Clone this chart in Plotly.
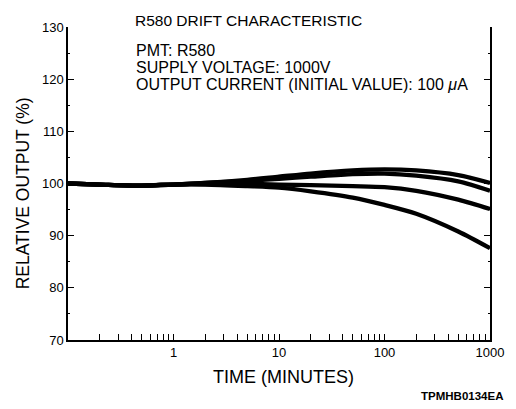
import plotly.graph_objects as go

# Time (minutes)
time_min = [0.1, 0.2, 0.5, 1, 2, 5, 10, 20, 50, 100, 200, 500, 1000]
# Relative output (%) for four tubes
curve_a = [100.0, 99.8, 99.6, 99.8, 100.1, 100.7, 101.3, 101.9, 102.5, 102.7, 102.5, 101.6, 100.1]
curve_b = [100.0, 99.8, 99.6, 99.8, 100.1, 100.5, 100.9, 101.3, 101.8, 101.9, 101.5, 100.4, 98.6]
curve_c = [100.0, 99.8, 99.6, 99.8, 99.9, 99.9, 99.8, 99.7, 99.5, 99.3, 98.6, 96.9, 95.1]
curve_d = [100.0, 99.8, 99.6, 99.8, 99.8, 99.5, 99.2, 98.5, 97.3, 95.9, 94.2, 90.8, 87.6]

x_tick_vals = [1, 10, 100, 1000]
x_tick_text = ["1", "10", "100", "1000"]
y_tick_vals = [70, 80, 90, 100, 110, 120, 130]

title_text = "R580 DRIFT CHARACTERISTIC"
info_lines = ["PMT: R580", "SUPPLY VOLTAGE: 1000V", "OUTPUT CURRENT (INITIAL VALUE): 100 <i>μ</i>A"]
code_text = "TPMHB0134EA"

minor_x = [m * 10 ** e for e in (-1, 0, 1, 2) for m in range(2, 10)]

fig = go.Figure()
for ys in (curve_a, curve_b, curve_c, curve_d):
    fig.add_trace(go.Scatter(x=time_min, y=ys, mode="lines",
                             line=dict(color="black", width=4.3, shape="spline", smoothing=0.8),
                             showlegend=False, hoverinfo="skip"))

font_family = "Liberation Sans, Arial, sans-serif"
fig.update_layout(
    width=516, height=409,
    margin=dict(l=60, r=34, t=14, b=77),
    paper_bgcolor="white", plot_bgcolor="white",
    font=dict(family=font_family, color="black", size=13),
    showlegend=False,
)
fig.update_xaxes(
    type="log", range=[-1, 3],
    tickmode="array", tickvals=x_tick_vals, ticktext=x_tick_text,
    ticks="inside", ticklen=6, tickwidth=1, tickcolor="black",
    minor=dict(tickmode="array", tickvals=minor_x, ticks="inside", ticklen=6,
               tickwidth=1, tickcolor="black", showgrid=False),
    showline=True, linecolor="black", linewidth=1.5, mirror=False,
    showgrid=False, zeroline=False, tickfont=dict(size=13, color="black"),
)
fig.update_yaxes(
    range=[70, 130], tickmode="array", tickvals=y_tick_vals,
    ticks="inside", ticklen=6, tickwidth=1, tickcolor="black",
    minor=dict(dtick=5, ticks="inside", ticklen=2, tickwidth=1, tickcolor="black", showgrid=False),
    showline=True, linecolor="black", linewidth=1.5, mirror="ticks",
    showgrid=False, zeroline=False, tickfont=dict(size=13, color="black"),
)

fig.add_annotation(text=title_text, x=0.154, y=1.022, xref="paper", yref="paper",
                   xanchor="left", yanchor="middle", showarrow=False, font=dict(size=15.5))
for line, yp in zip(info_lines, [0.925, 0.871, 0.817]):
    fig.add_annotation(text=line, x=0.158, y=yp, xref="paper", yref="paper",
                       xanchor="left", yanchor="middle", showarrow=False, borderpad=0,
                       font=dict(size=16))
fig.add_annotation(text="RELATIVE OUTPUT (%)", x=-0.108, y=0.47, xref="paper", yref="paper",
                   textangle=-90, xanchor="center", yanchor="middle", showarrow=False,
                   font=dict(size=17.5))
fig.add_annotation(text="TIME (MINUTES)", x=0.51, y=-0.119, xref="paper", yref="paper",
                   xanchor="center", yanchor="middle", showarrow=False, font=dict(size=18))
fig.add_annotation(text="<b>" + code_text + "</b>", x=1.036, y=-0.179, xref="paper", yref="paper",
                   xanchor="right", yanchor="middle", showarrow=False, font=dict(size=11.5))

fig.write_html("out.html")
